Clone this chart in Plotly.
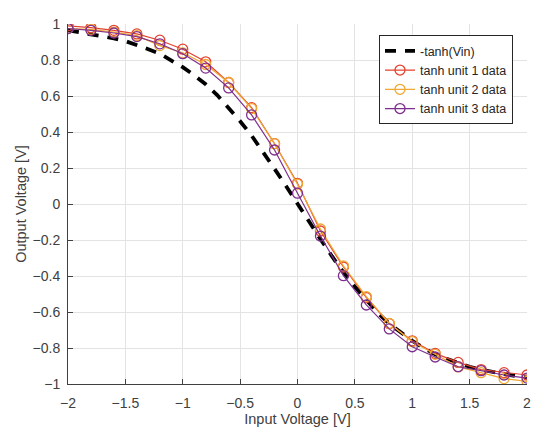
import plotly.graph_objects as go

# ---------------- data ----------------
vin_ref = [-2.0, -1.9, -1.8, -1.7, -1.6, -1.5, -1.4, -1.3, -1.2, -1.1, -1.0,
           -0.9, -0.8, -0.7, -0.6, -0.5, -0.4, -0.3, -0.2, -0.1, 0.0,
           0.1, 0.2, 0.3, 0.4, 0.5, 0.6, 0.7, 0.8, 0.9, 1.0,
           1.1, 1.2, 1.3, 1.4, 1.5, 1.6, 1.7, 1.8, 1.9, 2.0]
vout_ref = [0.965, 0.955, 0.945, 0.935, 0.92, 0.905, 0.885, 0.86, 0.835, 0.80, 0.76,
            0.715, 0.665, 0.605, 0.535, 0.46, 0.38, 0.29, 0.195, 0.10, 0.0,
            -0.10, -0.195, -0.29, -0.38, -0.46, -0.535, -0.605, -0.665, -0.715, -0.76,
            -0.80, -0.835, -0.86, -0.885, -0.905, -0.92, -0.935, -0.945, -0.955, -0.965]

vin = [-2.0, -1.8, -1.6, -1.4, -1.2, -1.0, -0.8, -0.6, -0.4, -0.2, 0.0,
       0.2, 0.4, 0.6, 0.8, 1.0, 1.2, 1.4, 1.6, 1.8, 2.0]
unit1 = [0.99, 0.98, 0.965, 0.945, 0.91, 0.86, 0.79, 0.675, 0.535, 0.335, 0.115,
         -0.15, -0.35, -0.52, -0.665, -0.76, -0.83, -0.88, -0.92, -0.937, -0.95]
unit2 = [0.975, 0.97, 0.955, 0.935, 0.88, 0.84, 0.775, 0.675, 0.53, 0.335, 0.11,
         -0.139, -0.344, -0.515, -0.663, -0.765, -0.835, -0.905, -0.937, -0.97, -0.985]
unit3 = [0.975, 0.965, 0.95, 0.93, 0.89, 0.835, 0.755, 0.645, 0.495, 0.30, 0.06,
         -0.178, -0.398, -0.561, -0.694, -0.793, -0.85, -0.904, -0.926, -0.95, -0.967]

x_ticks = [-2, -1.5, -1, -0.5, 0, 0.5, 1, 1.5, 2]
y_ticks = [-1, -0.8, -0.6, -0.4, -0.2, 0, 0.2, 0.4, 0.6, 0.8, 1]


def fmt(t):
    return f"{t:g}".replace("-", "\u2212")


# ---------------- figure ----------------
fig = go.Figure()

fig.add_trace(go.Scatter(
    x=vin_ref, y=vout_ref, mode="lines", name="-tanh(Vin)",
    line=dict(color="black", width=3.8, dash="11px,9px"),
))

for name, vals, col in [("tanh unit 1 data", unit1, "#E3422E"),
                        ("tanh unit 2 data", unit2, "#F0A830"),
                        ("tanh unit 3 data", unit3, "#7E2F8E")]:
    fig.add_trace(go.Scatter(
        x=vin, y=vals, mode="lines+markers", name=name,
        line=dict(color=col, width=1.2),
        marker=dict(symbol="circle-open", size=10, color=col, line=dict(width=1.3)),
    ))

# page body has an 8px margin, so the figure is 16px smaller than the window
fig.update_layout(
    width=534, height=424,
    margin=dict(l=60, r=15, t=16, b=48),
    paper_bgcolor="white", plot_bgcolor="white",
    font=dict(family="Liberation Sans, Arial, sans-serif", size=14, color="#404040"),
    showlegend=True,
    legend=dict(
        x=0.9695, y=0.969, xanchor="right", yanchor="top",
        bgcolor="white", bordercolor="#262626", borderwidth=1,
        font=dict(size=12.5, color="#262626"),
        tracegroupgap=0,
    ),
)

axis_style = dict(
    showgrid=True, gridcolor="#E3E3E3", gridwidth=1,
    showline=True, linecolor="#404040", linewidth=1,
    ticks="inside", ticklen=5, tickcolor="#404040",
    zeroline=False, automargin=False,
)

fig.update_xaxes(
    range=[-2, 2], tickvals=x_ticks, ticktext=[fmt(t) for t in x_ticks],
    ticklabelstandoff=6,
    title=dict(text="Input Voltage [V]", font=dict(size=14.5), standoff=4),
    **axis_style,
)
fig.update_yaxes(
    range=[-1, 1], tickvals=y_ticks, ticktext=[fmt(t) for t in y_ticks],
    ticklabelstandoff=4,
    title=dict(text="Output Voltage [V]", font=dict(size=14.5), standoff=2),
    **axis_style,
)

fig.write_html("out.html")
